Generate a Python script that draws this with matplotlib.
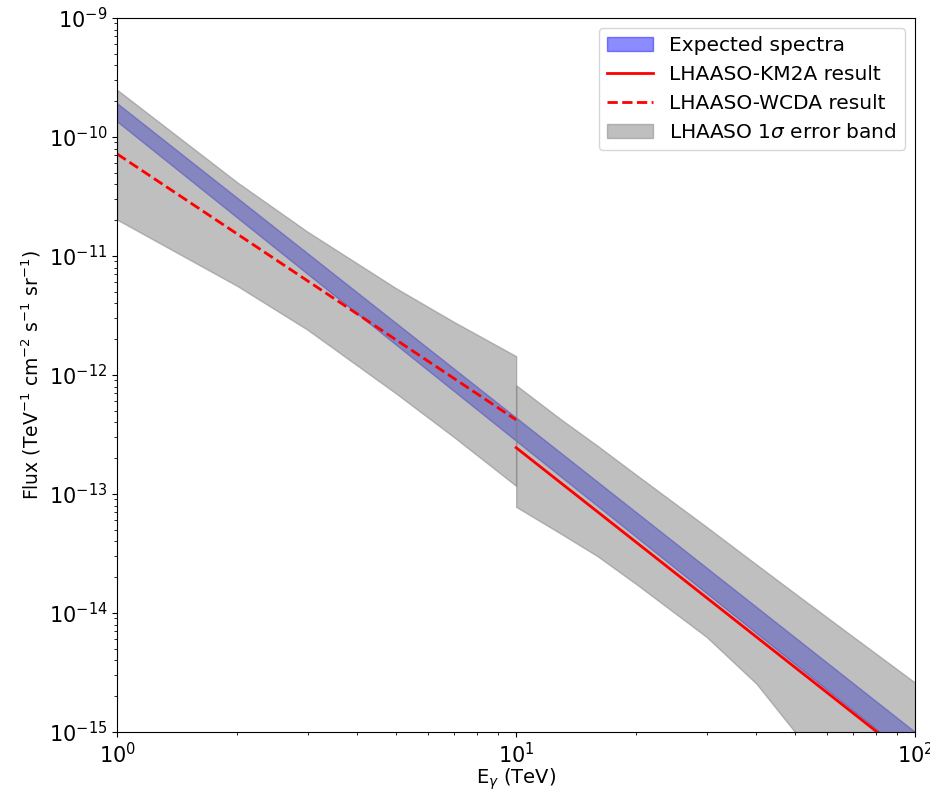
import matplotlib
matplotlib.use("Agg")
import matplotlib.pyplot as plt

# Expected spectra band (TeV, flux)
E_EXP = [1, 100]
EXP_LOW = [1.35e-10, 5.8e-16]
EXP_HIGH = [1.92e-10, 1.0e-15]

# best-fit lines
E_WCDA = [1, 10]
F_WCDA = [7.2e-11, 4.2e-13]
E_KM2A = [10, 100]
F_KM2A = [2.45e-13, 5.6e-16]

# LHAASO 1 sigma band, WCDA part
E_BAND_W = [1, 2, 3, 5, 7, 10]
BAND_W_HIGH = [2.49e-10, 4.16e-11, 1.60e-11, 5.36e-12, 2.78e-12, 1.44e-12]
BAND_W_LOW = [2.02e-11, 5.6e-12, 2.4e-12, 7.0e-13, 2.99e-13, 1.17e-13]

# LHAASO 1 sigma band, KM2A part
E_BAND_K = [10, 13, 16, 20, 30, 40, 50, 70, 100]
BAND_K_HIGH = [8.2e-13, 4.2e-13, 2.54e-13, 1.45e-13, 5.3e-14, 2.56e-14, 1.46e-14,
               6.3e-15, 2.6e-15]
BAND_K_LOW = [7.8e-14, 4.6e-14, 3.0e-14, 1.75e-14, 6.3e-15, 2.55e-15, 1.0e-15,
              2.0e-16, 2.5e-17]

fig = plt.figure(figsize=(9.3, 8.0), dpi=100)
ax = fig.add_axes([0.126, 0.085, 0.858, 0.8925])

ax.fill_between(E_EXP, EXP_LOW, EXP_HIGH, color="blue", alpha=0.45,
                label="Expected spectra")
ax.fill_between(E_BAND_W, BAND_W_LOW, BAND_W_HIGH, color="gray", alpha=0.5,
                label=r"LHAASO 1$\sigma$ error band")
ax.fill_between(E_BAND_K, BAND_K_LOW, BAND_K_HIGH, color="gray", alpha=0.5)
ax.plot(E_KM2A, F_KM2A, color="red", lw=2, label="LHAASO-KM2A result")
ax.plot(E_WCDA, F_WCDA, color="red", lw=2, ls="--", label="LHAASO-WCDA result")

ax.set_xscale("log")
ax.set_yscale("log")
ax.set_xlim(1, 100)
ax.set_ylim(1e-15, 1e-9)
ax.tick_params(labelsize=15)
ax.set_xlabel(r"E$_\gamma$ (TeV)", fontsize=14, labelpad=0)
ax.set_ylabel(r"Flux (TeV$^{-1}$ cm$^{-2}$ s$^{-1}$ sr$^{-1}$)", fontsize=13.5)

handles, labels = ax.get_legend_handles_labels()
order = ["Expected spectra", "LHAASO-KM2A result", "LHAASO-WCDA result",
         r"LHAASO 1$\sigma$ error band"]
hmap = dict(zip(labels, handles))
ax.legend([hmap[k] for k in order], order, loc="upper right", fontsize=14.5,
          handlelength=2.3)

fig.savefig("out.png", dpi=100)
